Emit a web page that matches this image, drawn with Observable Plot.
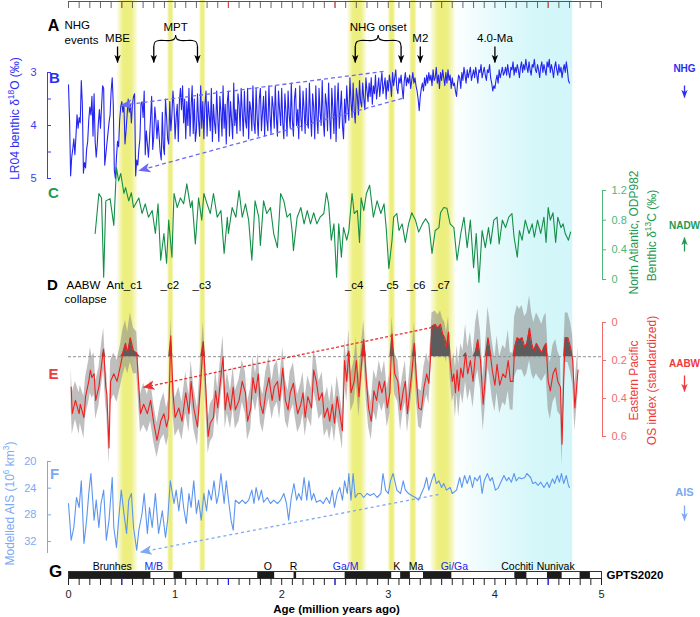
<!DOCTYPE html>
<html><head><meta charset="utf-8">
<script src="https://cdn.jsdelivr.net/npm/d3@7"></script>
<script src="https://cdn.jsdelivr.net/npm/@observablehq/plot@0.6"></script>
<style>
body{margin:0;background:#fff;}
#chart{position:relative;width:700px;height:617px;overflow:hidden;background:#fff;}
#chart svg{position:absolute;left:0;top:0;overflow:visible;}
</style></head><body><div id="chart"></div>
<script>
// ---------------- DATA ----------------
// LR04 benthic d18O, 0.00–4.70 Ma every 0.01 Ma
const lr04Step = 0.01;
const lr04 = [
3.23,3.90,4.95,4.60,4.45,4.25,4.55,4.20,3.80,4.05,
3.85,3.95,3.15,3.60,4.90,4.70,4.80,4.45,4.30,3.90,
3.65,3.80,3.45,4.20,3.40,4.30,4.60,4.35,3.95,3.70,
4.05,3.65,3.25,3.30,4.75,4.55,4.35,4.15,3.95,3.80,
3.35,3.10,3.60,4.85,5.00,4.60,4.30,4.40,3.90,3.65,
3.55,3.75,3.60,4.35,4.10,3.80,3.50,3.75,3.60,3.95,
3.60,3.45,3.40,4.95,4.65,4.75,4.45,4.25,3.60,3.55,
3.85,3.35,4.55,4.10,4.35,4.60,4.25,3.85,3.45,4.45,
4.20,3.65,3.90,4.25,3.90,4.20,4.50,4.65,3.75,4.40,
4.55,3.50,3.85,4.25,4.35,3.55,4.10,3.80,3.35,3.65,
4.25,3.85,3.60,4.30,3.55,3.30,3.70,3.25,3.95,3.50,
4.25,3.55,4.00,3.30,4.20,3.65,3.25,4.15,3.50,4.30,
4.10,3.40,3.90,4.20,3.25,4.05,3.55,4.25,3.60,3.35,
4.20,3.55,3.80,4.10,3.30,4.30,3.60,3.95,4.15,3.35,
3.85,4.30,3.45,3.75,4.20,3.25,4.05,3.60,4.35,3.55,
3.35,4.20,3.55,3.90,4.25,3.20,4.00,3.70,4.15,3.40,
3.60,4.10,3.30,3.75,4.20,3.35,3.90,4.05,3.30,4.25,
3.55,3.70,4.10,3.25,3.95,4.15,3.30,3.85,4.20,3.50,
3.30,4.10,3.75,3.45,4.20,3.35,3.90,4.10,3.25,3.80,
4.15,3.45,3.65,4.05,3.25,3.85,4.20,3.35,3.70,4.00,
3.30,3.95,4.25,3.40,3.75,4.20,3.35,3.80,4.05,3.20,
3.90,4.20,3.50,3.30,4.00,3.70,4.25,3.25,3.85,4.10,
3.35,3.70,4.15,3.30,3.95,4.05,3.20,3.80,4.20,3.40,
3.65,4.25,3.25,3.85,4.15,3.30,3.75,4.00,3.15,3.90,
4.20,3.40,3.60,4.10,3.20,3.85,4.25,3.30,3.70,4.15,
3.25,4.30,3.60,3.20,4.05,3.70,3.35,4.00,4.25,3.50,
3.95,3.25,3.65,3.90,3.10,3.55,3.85,3.20,3.70,3.95,
3.30,3.45,3.80,3.15,3.55,3.65,3.20,3.50,3.70,3.10,
3.35,3.55,3.20,3.45,3.10,3.60,3.25,3.40,3.05,3.50,
3.30,3.10,3.45,3.20,3.00,3.40,3.25,3.10,3.50,3.15,
3.35,3.05,3.20,3.45,3.00,3.25,3.10,2.95,3.30,3.40,
3.10,3.20,3.05,3.30,3.50,3.15,3.00,3.25,3.10,3.20,
3.05,3.30,3.15,3.00,3.20,3.10,3.25,3.35,3.50,3.72,
3.45,3.30,3.20,3.35,3.10,3.25,3.05,3.20,3.00,3.15,
3.05,3.25,2.95,3.15,3.10,2.90,3.20,3.05,3.30,3.00,
3.15,2.95,3.10,3.25,3.00,3.20,2.95,3.15,3.05,3.30,
3.10,3.25,3.20,3.35,3.45,3.20,3.05,3.10,3.30,3.00,
3.15,2.90,3.05,3.20,2.95,3.10,3.00,2.90,3.15,3.05,
2.95,3.10,2.90,3.05,3.20,2.95,3.00,2.85,3.10,3.00,
2.90,3.05,3.15,2.95,3.00,2.85,3.10,3.20,3.35,3.25,
3.30,3.15,3.05,3.20,2.95,3.10,3.00,2.90,3.05,3.00,
2.90,3.05,2.85,3.00,3.10,2.90,2.95,2.80,3.05,2.90,
3.00,2.85,2.95,3.10,2.90,2.80,3.00,2.85,2.95,2.75,
2.90,3.00,2.80,2.95,3.05,2.85,2.90,2.75,2.95,3.00,
2.85,2.95,3.10,2.90,2.80,3.00,2.85,2.95,3.05,2.80,
2.90,2.75,3.00,2.85,2.95,3.10,2.90,2.80,2.95,3.05,
2.85,3.00,2.90,3.10,2.95,2.85,3.00,2.80,2.95,3.15,
3.20];

// ODP982 benthic d13C
const odpAge = [0.25,0.285,0.31,0.33,0.35,0.39,0.425,0.45,0.47,0.49,
0.52,0.535,0.565,0.59,0.61,0.66,0.69,0.72,0.75,0.785,
0.815,0.84,0.865,0.895,0.92,0.94,0.97,0.99,1.02,1.05,
1.08,1.11,1.145,1.16,1.19,1.22,1.25,1.27,1.30,1.33,
1.36,1.395,1.43,1.46,1.49,1.50,1.535,1.57,1.60,1.63,
1.66,1.69,1.72,1.75,1.785,1.80,1.83,1.86,1.895,1.925,
1.96,1.99,2.02,2.05,2.08,2.10,2.11,2.145,2.18,2.21,
2.24,2.27,2.30,2.33,2.36,2.395,2.42,2.44,2.465,2.49,
2.515,2.535,2.56,2.58,2.61,2.63,2.66,2.68,2.71,2.73,
2.745,2.77,2.795,2.825,2.86,2.895,2.93,2.96,2.98,3.005,
3.035,3.05,3.08,3.10,3.13,3.16,3.19,3.22,3.255,3.285,
3.32,3.35,3.38,3.41,3.44,3.475,3.49,3.52,3.55,3.58,
3.615,3.645,3.68,3.71,3.74,3.77,3.80,3.825,3.85,3.88,
3.91,3.94,3.96,3.99,4.02,4.04,4.07,4.10,4.13,4.16,
4.18,4.21,4.23,4.255,4.285,4.32,4.35,4.37,4.40,4.43,
4.46,4.48,4.50,4.52,4.545,4.57,4.59,4.62,4.64,4.66,
4.69,4.71];
const odpD13C = [0.62,1.16,1.10,0.03,1.06,1.09,0.73,1.51,1.33,1.43,
1.16,1.24,1.06,1.17,0.97,1.10,0.89,1.02,0.84,0.93,
0.62,1.02,0.26,0.62,0.22,0.80,0.30,1.16,0.97,1.10,
1.02,1.29,0.97,1.06,0.48,1.10,0.80,1.16,1.02,0.89,
1.16,0.84,0.93,0.35,0.84,0.62,0.97,0.84,1.20,0.84,
1.02,0.80,0.26,1.06,0.84,0.46,1.06,0.89,0.97,0.62,
0.43,1.16,1.06,0.84,0.89,0.62,0.39,0.84,0.97,0.75,
0.93,0.75,0.90,0.75,0.84,0.89,1.17,1.02,0.53,0.75,
0.03,0.75,0.30,0.70,0.53,0.66,1.16,0.89,0.93,0.50,
1.10,0.93,1.16,1.27,0.84,1.06,0.89,1.02,0.70,0.15,
0.53,0.84,0.89,0.66,0.75,0.50,0.75,0.90,0.80,0.64,
0.75,0.82,0.75,0.35,0.66,0.70,0.90,0.97,0.96,0.75,
0.70,0.26,0.62,0.84,0.43,0.80,0.16,0.62,-0.04,0.66,
0.43,0.70,0.48,0.80,0.84,0.48,0.80,0.70,0.84,0.89,
0.57,0.30,0.66,0.53,0.80,0.62,0.75,0.57,0.80,0.62,
0.84,0.50,0.97,0.80,0.90,0.50,0.84,0.70,0.75,0.62,
0.53,0.64];

// Eastern Pacific OS index (standardized), with uncertainty half-width
const osAge = [0.025,0.035,0.065,0.10,0.11,0.145,0.16,0.19,0.205,0.22,
0.24,0.255,0.285,0.315,0.33,0.35,0.36,0.38,0.395,0.425,
0.455,0.49,0.51,0.535,0.555,0.58,0.61,0.64,0.675,0.705,
0.74,0.77,0.80,0.83,0.865,0.895,0.92,0.94,0.96,0.98,
1.00,1.035,1.065,1.10,1.13,1.15,1.175,1.21,1.24,1.265,
1.285,1.31,1.33,1.36,1.38,1.40,1.425,1.45,1.47,1.49,
1.52,1.545,1.565,1.60,1.63,1.66,1.68,1.71,1.73,1.755,
1.78,1.80,1.825,1.85,1.88,1.91,1.93,1.96,1.98,2.01,
2.035,2.06,2.08,2.11,2.13,2.15,2.18,2.20,2.22,2.245,
2.28,2.30,2.325,2.35,2.38,2.40,2.43,2.45,2.475,2.495,
2.52,2.545,2.57,2.59,2.61,2.63,2.65,2.68,2.70,2.725,
2.745,2.77,2.795,2.815,2.84,2.865,2.89,2.915,2.94,2.965,
2.99,3.015,3.035,3.06,3.09,3.115,3.14,3.16,3.18,3.20,
3.225,3.245,3.265,3.285,3.31,3.335,3.36,3.38,3.395,3.41,
3.44,3.465,3.49,3.51,3.53,3.545,3.565,3.58,3.60,3.615,
3.63,3.645,3.66,3.68,3.70,3.725,3.745,3.77,3.795,3.82,
3.84,3.865,3.89,3.91,3.935,3.95,3.975,4.00,4.02,4.045,
4.075,4.10,4.125,4.145,4.17,4.185,4.21,4.23,4.255,4.28,
4.30,4.325,4.345,4.365,4.39,4.41,4.44,4.46,4.48,4.50,
4.52,4.545,4.57,4.59,4.615,4.63,4.645,4.66,4.685,4.71,
4.73,4.75,4.78];
const osIndex = [0.34,0.48,0.41,0.48,0.43,0.50,0.39,0.31,0.25,0.29,
0.27,0.41,0.34,0.20,0.14,0.34,0.38,0.66,0.31,0.27,
0.31,0.22,0.16,0.11,0.16,0.08,0.15,0.16,0.48,0.43,
0.48,0.41,0.53,0.62,0.52,0.48,0.55,0.50,0.07,0.37,
0.50,0.45,0.52,0.37,0.48,0.31,0.45,0.55,0.31,0.10,
0.31,0.60,0.53,0.50,0.36,0.45,0.31,0.18,0.46,0.37,
0.46,0.34,0.46,0.41,0.31,0.37,0.52,0.45,0.29,0.37,
0.27,0.43,0.48,0.37,0.29,0.41,0.34,0.31,0.41,0.24,
0.41,0.46,0.37,0.32,0.41,0.48,0.43,0.37,0.50,0.39,
0.45,0.25,0.31,0.41,0.37,0.50,0.45,0.52,0.43,0.53,
0.39,0.48,0.57,0.20,0.31,0.15,0.37,0.31,0.20,0.39,
0.24,0.09,0.31,0.45,0.52,0.36,0.41,0.31,0.37,0.31,
0.45,0.37,0.06,0.27,0.31,0.46,0.36,0.31,0.48,0.37,
0.24,0.11,0.31,0.45,0.46,0.34,0.27,0.32,0.20,0.02,
0.01,0.03,0.01,0.06,0.08,0.13,0.05,0.20,0.31,0.27,
0.37,0.25,0.36,0.24,0.29,0.16,0.27,0.20,0.31,0.15,
0.09,0.20,0.43,0.29,0.08,0.13,0.25,0.33,0.22,0.33,
0.27,0.29,0.20,0.31,0.31,0.13,0.08,0.09,0.08,0.13,
0.11,0.03,0.11,0.15,0.11,0.13,0.16,0.13,0.11,0.31,
0.36,0.27,0.24,0.31,0.34,0.64,0.31,0.08,0.08,0.13,
0.20,0.45,0.25];
const osSpread = [0.10,0.11,0.10,0.11,0.10,0.11,0.10,0.11,0.12,0.11,
0.11,0.10,0.10,0.11,0.11,0.10,0.11,0.09,0.11,0.11,
0.11,0.11,0.12,0.12,0.11,0.13,0.12,0.11,0.10,0.11,
0.10,0.11,0.10,0.09,0.10,0.11,0.10,0.10,0.09,0.11,
0.10,0.11,0.10,0.11,0.10,0.11,0.11,0.10,0.11,0.10,
0.11,0.09,0.10,0.10,0.11,0.10,0.11,0.11,0.10,0.11,
0.10,0.11,0.10,0.11,0.11,0.11,0.10,0.11,0.11,0.10,
0.11,0.10,0.10,0.11,0.11,0.10,0.11,0.11,0.10,0.11,
0.11,0.10,0.11,0.11,0.10,0.10,0.11,0.11,0.10,0.11,
0.10,0.11,0.11,0.10,0.11,0.10,0.11,0.10,0.11,0.10,
0.11,0.10,0.10,0.11,0.11,0.11,0.10,0.11,0.12,0.11,
0.11,0.10,0.11,0.10,0.10,0.11,0.11,0.11,0.10,0.11,
0.10,0.11,0.09,0.11,0.11,0.11,0.10,0.11,0.10,0.11,
0.11,0.11,0.11,0.10,0.10,0.11,0.11,0.11,0.10,0.07,
0.07,0.07,0.07,0.08,0.08,0.08,0.08,0.09,0.11,0.11,
0.13,0.13,0.14,0.13,0.14,0.15,0.14,0.15,0.14,0.15,
0.16,0.15,0.14,0.15,0.16,0.15,0.15,0.14,0.15,0.15,
0.15,0.15,0.16,0.15,0.15,0.16,0.17,0.16,0.17,0.16,
0.16,0.17,0.16,0.15,0.16,0.16,0.15,0.16,0.16,0.15,
0.15,0.15,0.15,0.16,0.15,0.11,0.15,0.13,0.13,0.13,
0.13,0.12,0.12];
const osThreshold = 0.18;

// Modelled Antarctic ice-sheet volume (10^6 km^3)
const aisAge = [0.0,0.025,0.05,0.075,0.10,0.12,0.145,0.17,0.19,0.21,
0.24,0.26,0.285,0.305,0.33,0.355,0.38,0.41,0.425,0.45,
0.47,0.495,0.52,0.545,0.565,0.59,0.61,0.64,0.66,0.69,
0.71,0.74,0.76,0.785,0.815,0.845,0.88,0.91,0.93,0.955,
0.99,1.01,1.035,1.06,1.08,1.105,1.13,1.15,1.175,1.20,
1.22,1.245,1.27,1.295,1.315,1.34,1.365,1.39,1.41,1.43,
1.46,1.48,1.505,1.525,1.545,1.565,1.60,1.63,1.66,1.69,
1.72,1.74,1.76,1.785,1.81,1.83,1.865,1.895,1.925,1.96,
1.99,2.02,2.045,2.065,2.09,2.115,2.14,2.16,2.185,2.21,
2.235,2.255,2.28,2.30,2.325,2.36,2.39,2.42,2.45,2.475,
2.495,2.52,2.545,2.57,2.59,2.615,2.63,2.65,2.67,2.69,
2.715,2.74,2.77,2.80,2.83,2.865,2.895,2.93,2.95,2.975,
3.00,3.02,3.045,3.08,3.115,3.14,3.16,3.19,3.22,3.255,
3.285,3.31,3.335,3.36,3.38,3.405,3.43,3.45,3.475,3.50,
3.52,3.545,3.58,3.60,3.64,3.67,3.69,3.715,3.74,3.765,
3.79,3.81,3.835,3.86,3.88,3.90,3.93,3.955,3.975,4.005,
4.03,4.05,4.085,4.11,4.13,4.155,4.18,4.20,4.225,4.25,
4.28,4.30,4.335,4.355,4.38,4.405,4.43,4.46,4.49,4.51,
4.54,4.56,4.585,4.605,4.625,4.645,4.67,4.69,4.70];
const aisVol = [26.3,31.8,29.9,25.4,26.9,22.9,32.3,28.8,24.8,21.8,
28.8,25.8,29.9,26.3,24.3,31.8,28.8,22.4,29.9,32.9,
28.8,24.3,27.8,30.8,25.8,24.8,29.9,33.3,30.3,27.8,
24.8,30.8,26.9,29.9,24.8,30.8,27.4,31.4,28.8,22.9,
26.3,24.3,27.4,23.9,26.9,29.3,24.8,26.9,22.9,27.8,
25.8,28.8,24.8,27.4,24.3,25.8,22.9,26.3,24.8,21.8,
26.3,22.9,26.3,28.8,30.3,25.8,26.3,25.8,26.3,25.8,
24.3,26.3,23.9,25.8,24.3,26.1,25.4,26.3,25.8,26.3,
25.8,24.8,26.3,28.8,25.4,23.3,25.8,24.8,25.8,22.4,
25.8,22.9,25.8,24.8,26.1,25.8,26.3,25.4,26.3,24.3,
26.9,24.8,23.9,25.8,22.9,24.8,21.8,25.8,21.8,25.4,
24.8,24.8,25.4,24.8,25.1,24.8,25.4,24.8,21.8,24.3,
24.8,22.9,21.8,24.3,24.8,22.9,24.3,24.8,25.1,25.4,
25.8,24.8,23.9,22.4,24.3,22.9,21.8,23.3,22.9,23.9,
23.3,24.3,23.9,24.8,24.3,22.4,23.9,22.1,23.3,22.1,
23.9,22.4,22.9,22.1,24.8,22.9,21.8,22.9,22.4,24.3,
24.0,23.3,22.1,22.9,22.4,23.1,21.8,22.9,22.4,22.6,
22.4,21.8,22.4,23.3,23.1,23.6,23.1,23.9,23.1,23.9,
22.6,23.3,22.1,23.1,21.8,23.3,22.1,23.6,23.9];

// dashed trend arrows (start -> arrow head), in each panel's units
const lr04TrendUpper = {x1:2.955, y1:2.98, x2:0.49, y2:3.62};
const lr04TrendLower = {x1:3.13, y1:3.49, x2:0.66, y2:4.85};
const osTrend = {x1:3.41, y1:0.026, x2:0.70, y2:0.342};
const aisTrend = {x1:3.47, y1:24.95, x2:0.675, y2:33.6};

// shaded intervals (Ma)
const yellowBands = [[0.46,0.65],[0.93,0.99],[1.23,1.29],[2.62,2.80],[3.00,3.07],[3.20,3.27],[3.40,3.63]];
const warmZone = [3.60, 4.73];

// GPTS2020 normal-polarity chrons (Ma)
const normalChrons = [[0,0.773],[0.99,1.07],[1.775,1.934],[2.116,2.14],[2.595,3.032],[3.116,3.207],[3.33,3.596],[4.187,4.3],[4.493,4.631],[4.799,4.896]];
const chronNames = [{age:0.41,label:"Brunhes"},{age:1.87,label:"O"},{age:2.11,label:"R"},{age:3.08,label:"K"},{age:3.26,label:"Ma"},{age:4.21,label:"Cochiti"},{age:4.57,label:"Nunivak"}];
const boundaryNames = [{age:0.80,label:"M/B"},{age:2.60,label:"Ga/M"},{age:3.62,label:"Gi/Ga"}];

// events
const singleEvents = [{age:0.46,label:"MBE"},{age:3.30,label:"M2"},{age:4.00,label:"4.0-Ma"}];
const groupedEvents = [{from:0.80,to:1.21,label:"MPT"},{from:2.69,to:3.12,label:"NHG onset"}];
const aabwEvents = [{age:0.525,label:"Ant_c1"},{age:0.95,label:"_c2"},{age:1.25,label:"_c3"},{age:2.68,label:"_c4"},{age:3.01,label:"_c5"},{age:3.26,label:"_c6"},{age:3.49,label:"_c7"}];

// axis ticks
const ageTicks = d3.range(0, 51).map(i => i / 10);
const ageHalfTicks = [0.5, 1.5, 2.5, 3.5, 4.5];

// ---------------- TABLES ----------------
const lr04Data = lr04.map((v, i) => ({age: +(i * lr04Step).toFixed(2), v}));
const odpData = odpAge.map((a, i) => ({age: a, v: odpD13C[i]}));
const osData = osAge.map((a, i) => ({age: a, v: osIndex[i], s: osSpread[i]}));
const aisData = aisAge.map((a, i) => ({age: a, v: aisVol[i]}));

// ---------------- LAYOUT ----------------
const W = 700, H = 617, ML = 68, MR = 99;
const FONT = "'Liberation Sans', Arial, Helvetica, sans-serif";
const COL = {
  b: "#2525f0", bAxis: "#3c3cf2", bTrend: "#6a6af5",
  c: "#138f48", cAxis: "#4cb77a", cText: "#1f9a52",
  e: "#f01f1f", eAxis: "#f26a6a", eText: "#f03a3a",
  f: "#5b95f0", fAxis: "#7ba9f3"
};
const chart = document.getElementById("chart");
let markerId = 0;

function base(opts) {
  return Plot.plot({
    width: W, height: H, marginLeft: ML, marginRight: MR, marginTop: 0, marginBottom: 0,
    style: {background: "transparent", overflow: "visible", fontFamily: FONT, fontSize: "11px", color: "#000"},
    ...opts,
    x: {domain: [0, 5], axis: null, ...(opts.x || {})},
    y: {axis: null, ...(opts.y || {})}
  });
}
function add(svg) { chart.appendChild(svg); return svg; }

// filled arrow heads on every link of a layer
function arrowheads(svg, size) {
  const defs = d3.select(svg).insert("defs", ":first-child");
  svg.querySelectorAll('g[aria-label="link"]').forEach(g => {
    const color = g.getAttribute("stroke") || "#000";
    const id = "ah" + (markerId++);
    defs.append("marker").attr("id", id).attr("viewBox", "0 0 10 10")
      .attr("refX", 9.5).attr("refY", 5).attr("markerUnits", "userSpaceOnUse")
      .attr("markerWidth", size).attr("markerHeight", size).attr("orient", "auto")
      .append("path").attr("d", "M0,1 L10,5 L0,9 L2.5,5 Z").attr("fill", color).attr("stroke", "none");
    g.querySelectorAll("path").forEach(p => p.setAttribute("marker-end", `url(#${id})`));
  });
}
function supify(svg) {
  svg.querySelectorAll("text").forEach(t => {
    const s = t.textContent;
    if (!s.includes("^{")) return;
    t.textContent = "";
    s.split(/(\^\{[^}]*\})/).forEach(p => {
      if (!p) return;
      const ts = document.createElementNS("http://www.w3.org/2000/svg", "tspan");
      if (p.startsWith("^{")) {
        ts.textContent = p.slice(2, -1);
        ts.setAttribute("baseline-shift", "super");
        ts.setAttribute("font-size", "70%");
      } else ts.textContent = p;
      t.appendChild(ts);
    });
  });
}
function trend(t, color, dash) {
  return Plot.link([t], {x1: "x1", y1: "y1", x2: "x2", y2: "y2", stroke: color, strokeWidth: 1.3, strokeDasharray: dash});
}

// background shading
const bg = add(base({
  marginTop: 0, marginBottom: H - 570,
  marks: [
    Plot.rect([warmZone], {x1: d => d[0], x2: d => d[1], fill: "url(#warmGrad)"}),
    Plot.rect(yellowBands, {x1: d => d[0], x2: d => d[1], fill: "url(#yelGrad)"})
  ]
}));
{
  const defs = d3.select(bg).insert("defs", ":first-child");
  const yg = defs.append("linearGradient").attr("id", "yelGrad").attr("x1", 0).attr("x2", 1).attr("y1", 0).attr("y2", 0);
  [[0, 0.15], [0.3, 0.95], [0.5, 1], [0.7, 0.95], [1, 0.15]].forEach(([o, a]) =>
    yg.append("stop").attr("offset", o).attr("stop-color", "#ecee7c").attr("stop-opacity", a));
  const cg = defs.append("linearGradient").attr("id", "warmGrad").attr("x1", 0).attr("x2", 1).attr("y1", 0).attr("y2", 0);
  [[0, 0], [0.35, 0.55], [0.7, 0.95], [1, 1]].forEach(([o, a]) =>
    cg.append("stop").attr("offset", o).attr("stop-color", "#d2f6f9").attr("stop-opacity", a));
}

// top age ruler
add(base({
  marginTop: 1, marginBottom: H - 8, y: {domain: [0, 1]},
  marks: [
    Plot.tickX(ageTicks, {x: d => d, stroke: "#555", strokeWidth: 0.9}),
    Plot.tickX(ageHalfTicks, {x: d => d, stroke: "#e04848", strokeWidth: 1}),
    Plot.ruleY([1], {stroke: "#555"})
  ]
}));

// B: LR04
const layerB = add(base({
  marginTop: 72, marginBottom: H - 178, y: {domain: [3, 5], reverse: true},
  marks: [
    Plot.line(lr04Data, {x: "age", y: "v", stroke: COL.b, strokeWidth: 1.1}),
    trend(lr04TrendUpper, COL.bTrend, "4,3"),
    trend(lr04TrendLower, COL.bTrend, "4,3")
  ]
}));
arrowheads(layerB, 12);

// C: ODP982
add(base({
  marginTop: 190, marginBottom: H - 279, y: {domain: [0, 1.2]},
  marks: [Plot.line(odpData, {x: "age", y: "v", stroke: COL.c, strokeWidth: 1.1})]
}));

// E: OS index
const layerE = add(base({
  marginTop: 322, marginBottom: H - 436, y: {domain: [0, 0.6], reverse: true},
  marks: [
    Plot.areaY(osData, {x: "age", y1: d => d.v - d.s, y2: d => d.v + d.s, fill: "#8a8a8a", fillOpacity: 0.55}),
    Plot.areaY(osData, {x: "age", y1: () => osThreshold, y2: d => Math.min(d.v, osThreshold), fill: "#5c5c5c"}),
    Plot.ruleY([osThreshold], {stroke: "#8e8e8e", strokeDasharray: "3,2"}),
    Plot.line(osData, {x: "age", y: "v", stroke: COL.e, strokeWidth: 1.1}),
    trend(osTrend, "#f03030", "3,2")
  ]
}));
arrowheads(layerE, 12);

// F: AIS
const layerF = add(base({
  marginTop: 461, marginBottom: H - 553, y: {domain: [20, 33.8], reverse: true},
  marks: [
    Plot.line(aisData, {x: "age", y: "v", stroke: COL.f, strokeWidth: 1.1}),
    trend(aisTrend, COL.fAxis, "3,3")
  ]
}));
arrowheads(layerF, 12);

// G: GPTS bar + age axis
const fmtInt = d => Math.abs(d - Math.round(d)) < 1e-6 ? String(Math.round(d)) : "";
add(base({
  marginTop: 571, marginBottom: H - 578,
  marks: [
    Plot.rect(normalChrons, {x1: d => d[0], x2: d => d[1], fill: "#1c1c1c"}),
    Plot.frame({stroke: "#333"}),
    Plot.axisX({anchor: "bottom", ticks: ageTicks, tickSize: 7, tickPadding: 5, tickFormat: fmtInt, fontSize: 11, label: null, color: "#222"}),
    Plot.axisX({anchor: "bottom", ticks: ageHalfTicks, tickSize: 7, tickFormat: () => "", label: null, color: "#2323ee"})
  ]
}));

// y axes
function yAxis({x0, side, top, bottom, domain, reverse, ticks, labels, color, fmt, pad}) {
  return add(Plot.plot({
    width: W, height: H, marginLeft: x0, marginRight: W - x0 - 4, marginTop: top, marginBottom: H - bottom,
    style: {background: "transparent", overflow: "visible", fontFamily: FONT, fontSize: "11px"},
    x: {domain: [0, 1], axis: null},
    y: {domain, reverse, axis: null},
    marks: [
      Plot.ruleX([0], {stroke: color}),
      Plot.tickY(ticks, {y: d => d, stroke: color}),
      Plot.axisY({anchor: side, ticks: labels, tickSize: 0, tickPadding: pad, tickFormat: fmt, color, fontSize: 11, label: null})
    ]
  }));
}
const fmtDec = d => d === 0 ? "0" : d3.format(".1f")(d);
yAxis({x0: 47, side: "left", top: 72, bottom: 178, domain: [3, 5], reverse: true, ticks: [3, 3.5, 4, 4.5, 5], labels: [3, 4, 5], color: COL.bAxis, fmt: d3.format("d"), pad: 11});
yAxis({x0: 47, side: "left", top: 461, bottom: 553, domain: [20, 33.8], reverse: true, ticks: [20, 24, 28, 32], labels: [20, 24, 28, 32], color: COL.fAxis, fmt: d3.format("d"), pad: 11});
yAxis({x0: 602, side: "right", top: 190, bottom: 279, domain: [0, 1.2], reverse: false, ticks: [0, 0.4, 0.8, 1.2], labels: [0, 0.4, 0.8, 1.2], color: COL.cAxis, fmt: fmtDec, pad: 5});
yAxis({x0: 602, side: "right", top: 322, bottom: 436, domain: [0, 0.6], reverse: true, ticks: [0, 0.2, 0.4, 0.6], labels: [0, 0.2, 0.4, 0.6], color: COL.eAxis, fmt: fmtDec, pad: 5});

// age-positioned annotations (x: age, y: pixels)
function brace(g, y) {
  const a = g.from, b = g.to, m = (a + b) / 2, r = (b - a) * 0.12;
  return [
    [a, y + 6], [a + r * 0.25, y + 1.5], [a + r, y], [m - r, y], [m - r * 0.25, y - 1.5], [m, y - 5]
  ].map(([x, yy]) => ({x, y: yy, k: g.label + "L"})).concat([
    [m, y - 5], [m + r * 0.25, y - 1.5], [m + r, y], [b - r, y], [b - r * 0.25, y + 1.5], [b, y + 6]
  ].map(([x, yy]) => ({x, y: yy, k: g.label + "R"})));
}
const arrowAges = singleEvents.map(d => d.age).concat(groupedEvents.flatMap(d => [d.from, d.to]));
const ann = add(base({
  marginTop: 0, marginBottom: 0, y: {domain: [0, H], reverse: true},
  marks: [
    Plot.link(arrowAges, {x1: d => d, x2: d => d, y1: 46, y2: 62, stroke: "#000", strokeWidth: 1.3}),
    Plot.line(groupedEvents.flatMap(g => brace(g, 40)), {x: "x", y: "y", z: "k", curve: "catmull-rom", stroke: "#000", strokeWidth: 1.1}),
    Plot.text(singleEvents, {x: "age", y: 38, text: "label", fontSize: 11.5}),
    Plot.text(groupedEvents, {x: d => (d.from + d.to) / 2, y: 27, text: "label", fontSize: 11.5}),
    Plot.text(aabwEvents, {x: "age", y: 285, text: "label", fontSize: 11.5}),
    Plot.text(chronNames, {x: "age", y: 566, text: "label", fontSize: 10.5}),
    Plot.text(boundaryNames, {x: "age", y: 566, text: "label", fontSize: 10.5, fill: "#2323ee"})
  ]
}));
arrowheads(ann, 8);

// pixel-positioned labels
const T = (s, x, y, o = {}) => Plot.text([s], {x, y, text: d => d, fontSize: 11.5, ...o});
const bold = {fontWeight: "bold"};
const pix = add(base({
  marginLeft: 0, marginRight: 0, marginTop: 0, marginBottom: 0,
  x: {domain: [0, W]}, y: {domain: [0, H], reverse: true},
  marks: [
    T("A", 53, 25, {...bold, fontSize: 16}),
    T("NHG", 64, 25, {textAnchor: "start"}),
    T("events", 64, 40, {textAnchor: "start"}),
    T("B", 54, 78, {...bold, fontSize: 15, fill: "#2e2ef0"}),
    T("C", 53, 193, {...bold, fontSize: 15, fill: COL.cText}),
    T("D", 52, 285, {...bold, fontSize: 15}),
    T("AABW", 66, 285, {textAnchor: "start"}),
    T("collapse", 64, 299, {textAnchor: "start"}),
    T("E", 53, 374, {...bold, fontSize: 15, fill: COL.eText}),
    T("F", 54, 474, {...bold, fontSize: 15, fill: COL.fAxis}),
    T("G", 55, 571, {...bold, fontSize: 17}),
    T("GPTS2020", 606, 575, {...bold, textAnchor: "start"}),
    T("NHG", 684, 68, {...bold, fontSize: 10, fill: "#2e2ef0"}),
    T("NADW", 684, 225, {...bold, fontSize: 10, fill: COL.cText}),
    T("AABW", 684, 363, {...bold, fontSize: 10, fill: COL.eText}),
    T("AIS", 684, 492, {...bold, fontSize: 11, fill: COL.fAxis}),
    T("LR04 benthic δ^{18}O (‰)", 15, 118, {rotate: -90, fontSize: 12, fill: "#2e2ef0"}),
    T("Modelled AIS (10^{6} km^{3})", 10, 503, {rotate: -90, fontSize: 12, fill: COL.fAxis}),
    T("North Atlantic, ODP982", 634, 232, {rotate: -90, fontSize: 12, fill: COL.cText}),
    T("Benthic δ^{13}C (‰)", 652, 235, {rotate: -90, fontSize: 12, fill: COL.cText}),
    T("Eastern Pacific", 634, 380, {rotate: -90, fontSize: 12, fill: COL.eText}),
    T("OS index (standardized)", 652, 380, {rotate: -90, fontSize: 12, fill: COL.eText}),
    T("Age (million years ago)", 336, 609, {...bold, fontSize: 11.5}),
    Plot.link([0], {x1: 684, x2: 684, y1: 85, y2: 97, stroke: "#2e2ef0", strokeWidth: 1.3}),
    Plot.link([0], {x1: 684, x2: 684, y1: 251, y2: 237, stroke: COL.cText, strokeWidth: 1.3}),
    Plot.link([0], {x1: 684, x2: 684, y1: 375, y2: 391, stroke: COL.eText, strokeWidth: 1.3}),
    Plot.link([0], {x1: 684, x2: 684, y1: 505, y2: 520, stroke: COL.fAxis, strokeWidth: 1.3})
  ]
}));
arrowheads(pix, 8);
supify(pix);
</script></body></html>
